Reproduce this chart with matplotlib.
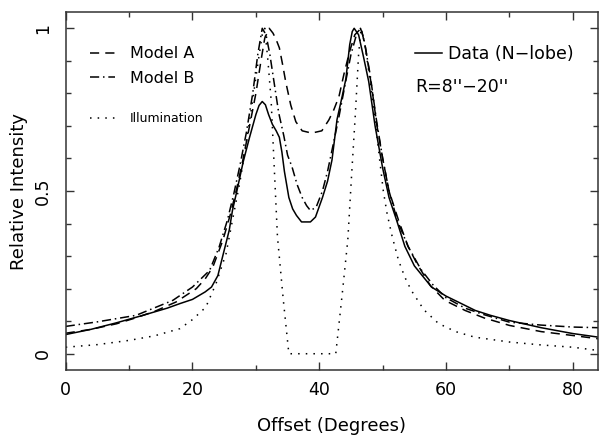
import matplotlib
matplotlib.use("Agg")
import matplotlib.pyplot as plt
from matplotlib.ticker import MultipleLocator, FixedLocator
from matplotlib.lines import Line2D

plt.rcParams['font.family'] = ['DejaVu Sans']

# Data (N-lobe), solid
data_x = [0, 4, 8, 12, 16, 18, 20, 22, 23, 24, 25, 25.8, 26.3, 27, 28, 29, 30,
          30.5, 31, 31.5, 32, 32.6, 33.2, 33.7, 34.1, 34.5, 35.2, 35.8, 36.4,
          37.2, 38.6, 39.4, 40.5, 41.3, 42, 42.8, 43.6, 44.2, 44.8, 45.2, 45.5,
          46.2, 47, 47.8, 48.8, 50, 51, 52.2, 53.5, 55, 57.7, 60, 62, 64.6, 67,
          70, 75, 80, 84]
data_y = [0.059, 0.075, 0.095, 0.117, 0.140, 0.154, 0.167, 0.190, 0.205, 0.240,
          0.318, 0.38, 0.44, 0.50, 0.59, 0.665, 0.735, 0.763, 0.775, 0.765,
          0.735, 0.705, 0.685, 0.665, 0.62, 0.56, 0.48, 0.445, 0.425, 0.405,
          0.405, 0.42, 0.48, 0.53, 0.595, 0.72, 0.79, 0.845, 0.95, 0.99, 1.0,
          0.98, 0.91, 0.836, 0.70, 0.57, 0.48, 0.41, 0.33, 0.27, 0.205, 0.177,
          0.158, 0.133, 0.118, 0.102, 0.08, 0.062, 0.051]

# Model A, dashed
ma_x = [0, 4, 8, 11, 14, 17.4, 20.6, 22, 23.2, 24.8, 26, 27, 28, 29, 30, 30.8,
        31.4, 32.1, 32.7, 33.2, 33.7, 34.2, 34.7, 35.5, 36.3, 37.3, 38.8, 40.4,
        41.5, 42.3, 43.1, 43.9, 44.8, 45.6, 46.6, 47.3, 48.3, 49.1, 50, 51,
        52.5, 54, 55.4, 57.5, 59.8, 63, 66, 70, 75, 80, 84]
ma_y = [0.063, 0.075, 0.092, 0.11, 0.13, 0.159, 0.2, 0.23, 0.266, 0.349, 0.43,
        0.51, 0.6, 0.7, 0.8, 0.9, 0.97, 1.0, 0.985, 0.965, 0.94, 0.89, 0.836,
        0.764, 0.713, 0.685, 0.678, 0.685, 0.718, 0.75, 0.79, 0.86, 0.93, 0.98,
        1.0, 0.94, 0.815, 0.70, 0.6, 0.5, 0.41, 0.33, 0.277, 0.21, 0.164,
        0.133, 0.11, 0.087, 0.068, 0.056, 0.046]

# Model B, dash-dot
mb_x = [0, 5, 11.1, 16.9, 20, 22.7, 24.2, 25.5, 26.5, 27.5, 28.5, 29.5, 30.3,
        31.0, 31.6, 32.2, 32.9, 33.6, 34.4, 35, 35.7, 36.5, 37.3, 38, 38.6,
        39.5, 40.5, 41.3, 42, 43.1, 44, 45, 46, 46.5, 47, 48, 49, 50, 51, 52.3,
        54, 56, 58, 60, 63, 66, 70, 75, 80, 84]
mb_y = [0.084, 0.098, 0.118, 0.164, 0.205, 0.256, 0.328, 0.41, 0.49, 0.58,
        0.68, 0.8, 0.92, 1.0, 0.98, 0.92, 0.83, 0.74, 0.67, 0.61, 0.574, 0.52,
        0.48, 0.455, 0.44, 0.45, 0.50, 0.56, 0.625, 0.728, 0.82, 0.92, 0.99,
        1.0, 0.97, 0.86, 0.72, 0.6, 0.5, 0.41, 0.33, 0.26, 0.21, 0.172, 0.14,
        0.12, 0.097, 0.088, 0.082, 0.08]

# Illumination, dotted
il_x = [0, 5, 10, 14, 18, 20, 22.1, 23.7, 25.3, 26.3, 27.5, 28.5, 29.5, 30.3,
        31.0, 31.4, 31.9, 32.4, 32.9, 33.4, 34.3, 35.2, 42.6, 43.6, 44.5, 45.1,
        45.7, 46.2, 46.6, 47.2, 48, 48.8, 49.5, 50.1, 50.7, 51.5, 52.5, 53.5,
        54.5, 56.5, 58.8, 61.5, 64.5, 70, 75, 80, 84]
il_y = [0.02, 0.028, 0.041, 0.055, 0.077, 0.105, 0.143, 0.215, 0.308, 0.41,
        0.53, 0.65, 0.78, 0.89, 0.98, 1.0, 0.9, 0.78, 0.57, 0.36, 0.17, 0.0,
        0.0, 0.18, 0.35, 0.55, 0.74, 0.92, 1.0, 0.95, 0.84, 0.72, 0.6, 0.5,
        0.43, 0.36, 0.287, 0.235, 0.195, 0.135, 0.093, 0.068, 0.051, 0.036,
        0.027, 0.02, 0.01]

fig = plt.figure(figsize=(5.99, 4.37), dpi=100)
ax = fig.add_axes([0.1097, 0.1533, 0.889, 0.8192])

lw = 1.1
dash_a = (6, 4)
dash_b = (6, 2.5, 1, 2.5)
dots = (1, 4)

ax.plot(data_x, data_y, color='black', lw=lw)
ax.plot(ma_x, ma_y, color='black', lw=lw, dashes=dash_a)
ax.plot(mb_x, mb_y, color='black', lw=lw, dashes=dash_b)
ax.plot(il_x, il_y, color='black', lw=lw, dashes=dots)

ax.set_xlim(0, 84)
ax.set_ylim(-0.05, 1.05)

ax.xaxis.set_major_locator(MultipleLocator(20))
ax.xaxis.set_minor_locator(MultipleLocator(10))
ax.yaxis.set_major_locator(FixedLocator([0, 0.5, 1]))
ax.yaxis.set_minor_locator(MultipleLocator(0.1))
ax.set_yticklabels(['0', '0.5', '1'])

ax.tick_params(which='both', direction='in', top=True, right=True,
               color='#333333', width=1.0)
ax.tick_params(which='major', length=6)
ax.tick_params(which='minor', length=3.5)
ax.tick_params(axis='x', labelsize=12.5, pad=8)
ax.tick_params(axis='y', labelsize=12.5, pad=10, labelrotation=90)
for lab in ax.get_yticklabels():
    lab.set_va('center')

for s in ax.spines.values():
    s.set_color('#333333')
    s.set_linewidth(1.1)

ax.set_xlabel('Offset (Degrees)', fontsize=13, labelpad=13)
ax.set_ylabel('Relative Intensity', fontsize=13, labelpad=4)

h_a = Line2D([], [], color='black', lw=lw, dashes=dash_a)
h_b = Line2D([], [], color='black', lw=lw, dashes=dash_b)
h_i = Line2D([], [], color='black', lw=lw, dashes=dots)
h_d = Line2D([], [], color='black', lw=lw)

leg1 = ax.legend([h_a, h_b], ['Model A', 'Model B'], loc='upper left',
                 bbox_to_anchor=(0.0456, 0.904), frameon=False, fontsize=11.5,
                 handlelength=1.56, handletextpad=0.94, labelspacing=0.6,
                 borderpad=0, borderaxespad=0)
ax.add_artist(leg1)
leg2 = ax.legend([h_i], ['Illumination'], loc='upper left',
                 bbox_to_anchor=(0.0456, 0.721), frameon=False, fontsize=9,
                 handlelength=2.0, handletextpad=1.2, borderpad=0,
                 borderaxespad=0)
ax.add_artist(leg2)
ax.legend([h_d], ['Data (N\u2212lobe)'], loc='upper left',
          bbox_to_anchor=(0.6568, 0.907), frameon=False, fontsize=12.5,
          handlelength=1.5, handletextpad=0.4, borderpad=0, borderaxespad=0)

ax.text(0.657, 0.790, "R=8''\u221220''", transform=ax.transAxes,
        fontsize=12.5, va='center', ha='left')

fig.savefig('out.png', dpi=100)
